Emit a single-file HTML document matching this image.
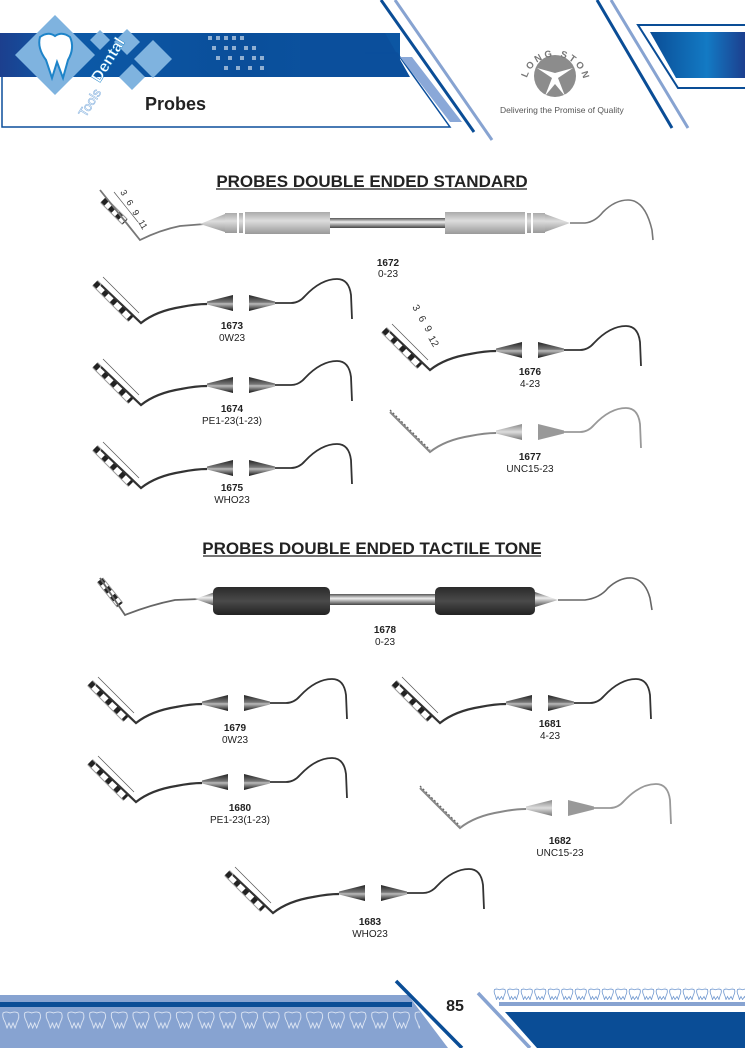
<!DOCTYPE html>
<html><head><meta charset="utf-8"><style>
html,body{margin:0;padding:0;background:#fff}
svg{display:block}
text{font-family:"Liberation Sans",Arial,sans-serif}
</style></head><body>
<svg width="745" height="1048" viewBox="0 0 745 1048" xmlns="http://www.w3.org/2000/svg">
<defs>
<linearGradient id="band" x1="0" x2="1" y1="0" y2="0">
<stop offset="0" stop-color="#1c3f8e"/><stop offset="0.15" stop-color="#0d5aa8"/><stop offset="0.6" stop-color="#0a4e9a"/><stop offset="1" stop-color="#0c56a3"/></linearGradient>
<linearGradient id="rband" x1="0" x2="1"><stop offset="0" stop-color="#0a4d96"/><stop offset="0.6" stop-color="#137ac4"/><stop offset="1" stop-color="#1c3f8e"/></linearGradient>
<linearGradient id="coneL" x1="0" y1="0" x2="0" y2="1"><stop offset="0" stop-color="#222"/><stop offset="0.45" stop-color="#777"/><stop offset="0.55" stop-color="#bbb"/><stop offset="1" stop-color="#111"/></linearGradient>
<linearGradient id="coneLt" x1="0" y1="0" x2="0" y2="1"><stop offset="0" stop-color="#888"/><stop offset="0.5" stop-color="#ddd"/><stop offset="1" stop-color="#777"/></linearGradient>
<linearGradient id="knurl" x1="0" y1="0" x2="0" y2="1"><stop offset="0" stop-color="#aaa"/><stop offset="0.4" stop-color="#ddd"/><stop offset="1" stop-color="#999"/></linearGradient>
<linearGradient id="rod" x1="0" y1="0" x2="0" y2="1"><stop offset="0" stop-color="#555"/><stop offset="0.4" stop-color="#eee"/><stop offset="1" stop-color="#444"/></linearGradient>
<linearGradient id="grip" x1="0" y1="0" x2="0" y2="1"><stop offset="0" stop-color="#2a2a2a"/><stop offset="0.5" stop-color="#4a4a4a"/><stop offset="1" stop-color="#222"/></linearGradient>
<pattern id="teeth" x="0" y="1010" width="21.7" height="20" patternUnits="userSpaceOnUse">
<path d="M3,3 Q6,1 10,3 Q15,1 18,3 Q20,7 17,12 L15,18 L13,13 L11,18 L9,13 L7,18 L5,12 Q2,7 3,3Z" fill="none" stroke="#e8eef8" stroke-width="0.8"/></pattern>
<pattern id="teeth2" x="493" y="988" width="13.5" height="13" patternUnits="userSpaceOnUse">
<path d="M1.5,1.5 Q4,0.5 6.5,1.8 Q9,0.5 12,1.5 Q13,4 11,8 L10,11.5 L8.5,8.5 L6.5,11.5 L5,8.5 L3.5,11.5 L2.5,8 Q0.5,4 1.5,1.5Z" fill="none" stroke="#6f97cf" stroke-width="0.8"/></pattern>
<path id="arc" d="M527,78 A29,29 0 0 1 583,78"/>

<g id="probe">
 <line x1="-146" y1="-20" x2="-110" y2="16" stroke="#999" stroke-width="8"/>
 <line x1="-146" y1="-20" x2="-110" y2="16" stroke="#fff" stroke-width="6"/>
 <line x1="-146" y1="-20" x2="-110" y2="16" stroke="#222" stroke-width="6" stroke-dasharray="5 7"/>
 <line x1="-138" y1="-26" x2="-102" y2="10" stroke="#555" stroke-width="0.7"/>
 <path d="M-140,-18 L-100,20 Q-85,8 -60,4 Q-45,1 -34,1" fill="none" stroke="#333" stroke-width="2.2"/>
 <polygon points="-34,-1.5 -8,-8 -8,8 -34,1.5" fill="url(#coneL)"/>
 <polygon points="8,-8 8,8 34,1.5 34,-1.5" fill="url(#coneL)"/>
 <path d="M34,0 L50,0 Q58,0 64,-7 Q80,-24 96,-24 Q108,-24 110,-8 L111,16" fill="none" stroke="#333" stroke-width="1.8"/>
</g>
<g id="probeL">
 <line x1="-140" y1="-22" x2="-100" y2="18" stroke="#666" stroke-width="1.3" stroke-dasharray="2 2"/>
 <path d="M-140,-20 L-100,20 Q-85,8 -60,4 Q-45,1 -34,1" fill="none" stroke="#888" stroke-width="2"/>
 <polygon points="-34,-1.5 -8,-8 -8,8 -34,1.5" fill="url(#coneLt)"/>
 <polygon points="8,-8 8,8 34,1.5 34,-1.5" fill="#999"/>
 <path d="M34,0 L50,0 Q58,0 64,-7 Q80,-24 96,-24 Q108,-24 110,-8 L111,16" fill="none" stroke="#999" stroke-width="1.8"/>
</g>
</defs>

<!-- HEADER -->
<rect x="0" y="33" width="400" height="44" fill="url(#band)"/>
<polygon points="300,33 385,33 410,77 300,77" fill="#0b4f9c"/>
<g fill="#fff" opacity="0.55">
<rect x="208" y="36" width="4" height="4"/><rect x="216" y="36" width="4" height="4"/><rect x="224" y="36" width="4" height="4"/><rect x="232" y="36" width="4" height="4"/><rect x="240" y="36" width="4" height="4"/>
<rect x="212" y="46" width="4" height="4"/><rect x="224" y="46" width="4" height="4"/><rect x="232" y="46" width="4" height="4"/><rect x="244" y="46" width="4" height="4"/><rect x="252" y="46" width="4" height="4"/>
<rect x="216" y="56" width="4" height="4"/><rect x="228" y="56" width="4" height="4"/><rect x="240" y="56" width="4" height="4"/><rect x="252" y="56" width="4" height="4"/><rect x="260" y="56" width="4" height="4"/>
<rect x="224" y="66" width="4" height="4"/><rect x="236" y="66" width="4" height="4"/><rect x="248" y="66" width="4" height="4"/><rect x="260" y="66" width="4" height="4"/>
</g>
<polygon points="2,77 360,77 398,77 452,128 2,128" fill="#fff"/>
<polyline points="2,77 2,127 450,127 397,53 365,53" fill="none" stroke="#0b4f9c" stroke-width="1.5"/>
<polygon points="400,57 412,57 462,122 450,122" fill="#8aa8d8"/>
<line x1="381" y1="0" x2="474" y2="132" stroke="#0a4d96" stroke-width="3"/>
<line x1="395" y1="0" x2="492" y2="140" stroke="#87a3d1" stroke-width="3"/>
<polygon points="55,15 95,55 55,95 15,55" fill="#7fb3df"/>
<path d="M40,37 Q48,31 55,36 Q62,31 70,37 Q75,48 68,60 L63,78 L57,62 L52,78 L46,60 Q37,48 40,37Z" fill="#fff" stroke="#1e84c9" stroke-width="2"/>
<polygon points="100,30 110,40 100,50 90,40" fill="#7fb3df"/>
<polygon points="127,29 140,42 127,55 114,42" fill="#7fb3df"/>
<polygon points="153,40 172,59 153,78 134,59" fill="#7fb3df"/>
<polygon points="132,64 145,77 132,90 119,77" fill="#7fb3df"/>
<text x="80" y="72" transform="rotate(-58 100 60)" font-size="16" font-weight="bold" fill="#fff" stroke="#1e84c9" stroke-width="0.5">Dental</text>
<text x="70" y="110" transform="rotate(-58 85 100)" font-size="13" fill="#fff" stroke="#8db6e0" stroke-width="0.6">Tools</text>
<text x="145" y="110" font-size="18" font-weight="bold" fill="#222">Probes</text>

<!-- right header -->
<line x1="597" y1="0" x2="672" y2="128" stroke="#0a4d96" stroke-width="3"/>
<line x1="611" y1="0" x2="688" y2="128" stroke="#87a3d1" stroke-width="3"/>
<polyline points="745,25 638,25 678,88 745,88" fill="none" stroke="#0a4d96" stroke-width="2"/>
<polygon points="650,32 745,32 745,78 676,78" fill="url(#rband)"/>
<circle cx="555" cy="76" r="21" fill="#8c8c8c"/>
<path d="M537,68 L552,78 L545,96 L555,84 L565,96 L558,78 L573,68 L555,73Z" fill="#fff"/>
<text font-size="9.5" font-weight="bold" fill="#777" letter-spacing="2.5"><textPath href="#arc">LONG STONE</textPath></text>
<text x="500" y="113" font-size="8.5" fill="#555">Delivering the Promise of Quality</text>

<!-- TITLES -->
<text x="372" y="187" font-size="17" font-weight="bold" fill="#222" text-anchor="middle">PROBES DOUBLE ENDED STANDARD</text>
<line x1="216" y1="189" x2="527" y2="189" stroke="#222" stroke-width="1.3"/>
<text x="372" y="554" font-size="17" font-weight="bold" fill="#222" text-anchor="middle">PROBES DOUBLE ENDED TACTILE TONE</text>
<line x1="203" y1="556" x2="541" y2="556" stroke="#222" stroke-width="1.3"/>

<!-- 1672 -->
<line x1="103" y1="200" x2="125" y2="222" stroke="#999" stroke-width="8"/>
<line x1="103" y1="200" x2="125" y2="222" stroke="#fff" stroke-width="6"/>
<line x1="103" y1="200" x2="125" y2="222" stroke="#222" stroke-width="6" stroke-dasharray="5 5"/>
<line x1="114" y1="192" x2="138" y2="222" stroke="#555" stroke-width="0.7"/>
<g font-size="9" fill="#333"><text x="120" y="192" transform="rotate(60 120 192)">3</text><text x="126" y="202" transform="rotate(60 126 202)">6</text><text x="132" y="212" transform="rotate(60 132 212)">9</text><text x="138" y="222" transform="rotate(60 138 222)">11</text></g>
<path d="M100,190 L140,240 Q160,230 180,226 L205,224" fill="none" stroke="#777" stroke-width="1.8"/>
<polygon points="200,224 225,214 225,232" fill="url(#knurl)"/>
<rect x="225" y="213" width="12" height="20" fill="url(#knurl)"/>
<rect x="239" y="213" width="4" height="20" fill="url(#knurl)"/>
<rect x="245" y="212" width="85" height="22" fill="url(#knurl)"/>
<rect x="330" y="218" width="115" height="10" fill="url(#rod)"/>
<rect x="445" y="212" width="80" height="22" fill="url(#knurl)"/>
<rect x="527" y="213" width="4" height="20" fill="url(#knurl)"/>
<rect x="533" y="213" width="12" height="20" fill="url(#knurl)"/>
<polygon points="545,214 570,223 545,232" fill="url(#knurl)"/>
<path d="M570,223 L585,223 Q595,222 603,212 Q615,200 628,200 Q645,200 652,230 L653,240" fill="none" stroke="#777" stroke-width="1.6"/>
<text x="388" y="266" font-size="10" font-weight="bold" fill="#222" text-anchor="middle">1672</text>
<text x="388" y="277" font-size="10" fill="#222" text-anchor="middle">0-23</text>

<!-- small probes top -->
<use href="#probe" transform="translate(241,303)"/>
<text x="232" y="329" font-size="10" font-weight="bold" fill="#222" text-anchor="middle">1673</text>
<text x="232" y="341" font-size="10" fill="#222" text-anchor="middle">0W23</text>
<use href="#probe" transform="translate(241,385)"/>
<text x="232" y="412" font-size="10" font-weight="bold" fill="#222" text-anchor="middle">1674</text>
<text x="232" y="424" font-size="10" fill="#222" text-anchor="middle">PE1-23(1-23)</text>
<use href="#probe" transform="translate(241,468)"/>
<text x="232" y="491" font-size="10" font-weight="bold" fill="#222" text-anchor="middle">1675</text>
<text x="232" y="503" font-size="10" fill="#222" text-anchor="middle">WHO23</text>
<use href="#probe" transform="translate(530,350)"/>
<g font-size="10" fill="#333"><text x="412" y="307" transform="rotate(60 412 307)">3</text><text x="418" y="318" transform="rotate(60 418 318)">6</text><text x="424" y="328" transform="rotate(60 424 328)">9</text><text x="428" y="338" transform="rotate(60 428 338)">12</text></g>
<text x="530" y="375" font-size="10" font-weight="bold" fill="#222" text-anchor="middle">1676</text>
<text x="530" y="387" font-size="10" fill="#222" text-anchor="middle">4-23</text>
<use href="#probeL" transform="translate(530,432)"/>
<text x="530" y="460" font-size="10" font-weight="bold" fill="#222" text-anchor="middle">1677</text>
<text x="530" y="472" font-size="10" fill="#222" text-anchor="middle">UNC15-23</text>

<!-- 1678 -->
<line x1="100" y1="580" x2="120" y2="605" stroke="#999" stroke-width="8"/>
<line x1="100" y1="580" x2="120" y2="605" stroke="#fff" stroke-width="6"/>
<line x1="100" y1="580" x2="120" y2="605" stroke="#222" stroke-width="6" stroke-dasharray="5 5"/>
<path d="M100,578 L125,615 Q150,605 175,600 L200,599" fill="none" stroke="#666" stroke-width="1.8"/>
<polygon points="195,599 215,592 215,606" fill="url(#rod)"/>
<rect x="213" y="587" width="117" height="28" rx="5" fill="url(#grip)"/>
<rect x="330" y="594" width="105" height="11" fill="url(#rod)"/>
<rect x="435" y="587" width="100" height="28" rx="5" fill="url(#grip)"/>
<polygon points="535,592 558,600 535,607" fill="url(#rod)"/>
<path d="M558,600 L585,600 Q600,598 608,588 Q620,577 632,578 Q645,580 650,598 L652,610" fill="none" stroke="#666" stroke-width="1.6"/>
<text x="385" y="633" font-size="10" font-weight="bold" fill="#222" text-anchor="middle">1678</text>
<text x="385" y="645" font-size="10" fill="#222" text-anchor="middle">0-23</text>

<!-- bottom small probes -->
<use href="#probe" transform="translate(236,703)"/>
<text x="235" y="731" font-size="10" font-weight="bold" fill="#222" text-anchor="middle">1679</text>
<text x="235" y="743" font-size="10" fill="#222" text-anchor="middle">0W23</text>
<use href="#probe" transform="translate(236,782)"/>
<text x="240" y="811" font-size="10" font-weight="bold" fill="#222" text-anchor="middle">1680</text>
<text x="240" y="823" font-size="10" fill="#222" text-anchor="middle">PE1-23(1-23)</text>
<use href="#probe" transform="translate(540,703)"/>
<text x="550" y="727" font-size="10" font-weight="bold" fill="#222" text-anchor="middle">1681</text>
<text x="550" y="739" font-size="10" fill="#222" text-anchor="middle">4-23</text>
<use href="#probeL" transform="translate(560,808)"/>
<text x="560" y="844" font-size="10" font-weight="bold" fill="#222" text-anchor="middle">1682</text>
<text x="560" y="856" font-size="10" fill="#222" text-anchor="middle">UNC15-23</text>
<use href="#probe" transform="translate(373,893)"/>
<text x="370" y="925" font-size="10" font-weight="bold" fill="#222" text-anchor="middle">1683</text>
<text x="370" y="937" font-size="10" fill="#222" text-anchor="middle">WHO23</text>

<!-- FOOTER -->
<polygon points="0,995 408,995 448,1048 0,1048" fill="#87a3d1"/>
<rect x="0" y="1002" width="412" height="5" fill="#0a4d96"/>
<rect x="0" y="1010" width="420" height="21" fill="url(#teeth)"/>
<line x1="396" y1="981" x2="462" y2="1048" stroke="#0a4d96" stroke-width="3.5"/>
<text x="455" y="1011" font-size="16" font-weight="bold" fill="#222" text-anchor="middle">85</text>
<line x1="478" y1="993" x2="530" y2="1048" stroke="#87a3d1" stroke-width="3.5"/>
<rect x="493" y="987" width="252" height="13" fill="url(#teeth2)"/>
<rect x="499" y="1002" width="246" height="4" fill="#87a3d1"/>
<polygon points="505,1012 745,1012 745,1048 537,1048" fill="#0a4d96"/>
</svg>
</body></html>
